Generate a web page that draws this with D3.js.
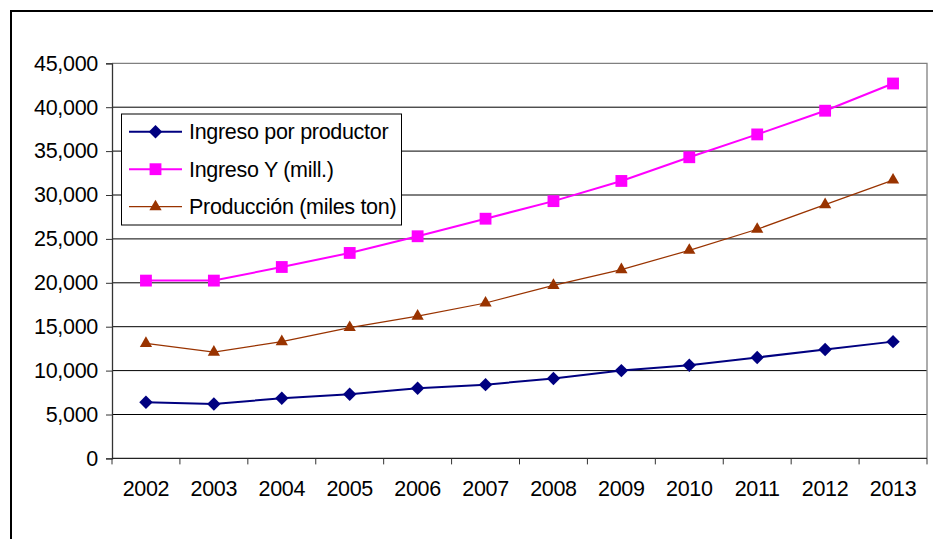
<!DOCTYPE html>
<html>
<head>
<meta charset="utf-8">
<script src="https://cdn.jsdelivr.net/npm/d3@7/dist/d3.min.js"></script>
<style>
  html, body { margin: 0; padding: 0; background: #fff; }
  svg { display: block; }
  text { font-family: "Liberation Sans", Arial, sans-serif; fill: #000; }
</style>
</head>
<body>
<svg id="chart" width="933" height="539"></svg>
<script>
const years = ["2002","2003","2004","2005","2006","2007","2008","2009","2010","2011","2012","2013"];
const ingresoProductor = [6400, 6200, 6850, 7300, 8000, 8400, 9100, 10000, 10600, 11500, 12400, 13300];
const ingresoY = [20250, 20250, 21800, 23400, 25300, 27300, 29300, 31600, 34300, 36900, 39600, 42700];
const produccion = [13100, 12100, 13300, 14900, 16200, 17700, 19700, 21500, 23700, 26100, 28900, 31700];
const yTicks = [0, 5000, 10000, 15000, 20000, 25000, 30000, 35000, 40000, 45000];
const seriesNames = ["Ingreso por productor", "Ingreso Y (mill.)", "Producción (miles ton)"];

(function () {
const svg = d3.select("#chart");

// outer chart frame (extends beyond the visible window on right/bottom)
svg.append("rect").attr("x", 11).attr("y", 11).attr("width", 1000).attr("height", 600)
  .attr("fill", "#fff").attr("stroke", "#000").attr("stroke-width", 2);

const pLeft = 112, pRight = 927, pTop = 63.3, pBottom = 458.4;
const x = d3.scaleBand().domain(years).range([pLeft, pRight]);
const cx = d => x(d) + x.bandwidth() / 2;
const y = d3.scaleLinear().domain([0, 45000]).range([pBottom, pTop]);

// gridlines
svg.append("g").selectAll("line").data(yTicks.filter(v => v > 0 && v < 45000)).join("line")
  .attr("x1", pLeft).attr("x2", pRight)
  .attr("y1", d => y(d)).attr("y2", d => y(d))
  .attr("stroke", "#000").attr("stroke-width", 1);

// plot area border (top & right)
svg.append("path")
  .attr("d", `M${pLeft},${y(45000)}H${pRight}V${pBottom}`)
  .attr("fill", "none").attr("stroke", "#808080").attr("stroke-width", 1.3);

// y axis
const yAxis = d3.axisLeft(y).tickValues(yTicks).tickFormat(d3.format(",")).tickSize(6).tickPadding(8);
const gy = svg.append("g").attr("transform", `translate(${pLeft},0)`).call(yAxis);
gy.select(".domain").attr("stroke", "#333").attr("stroke-width", 1.3);
gy.selectAll(".tick line").attr("stroke", "#333");
gy.selectAll(".tick text").attr("font-size", 21.5).attr("font-family", "Liberation Sans, Arial, sans-serif")
  .attr("fill", "#000").attr("letter-spacing", -0.3);

// x axis
svg.append("line").attr("x1", pLeft).attr("x2", pRight).attr("y1", pBottom).attr("y2", pBottom)
  .attr("stroke", "#222").attr("stroke-width", 1.3);
const bounds = years.map(d => x(d)).concat([x(years[years.length - 1]) + x.bandwidth()]);
svg.append("g").selectAll("line").data(bounds).join("line")
  .attr("x1", d => d).attr("x2", d => d).attr("y1", pBottom).attr("y2", pBottom + 6)
  .attr("stroke", "#333").attr("stroke-width", 1);
svg.append("g").selectAll("text").data(years).join("text")
  .attr("x", d => cx(d)).attr("y", 496).attr("text-anchor", "middle")
  .attr("font-size", 21.5).attr("letter-spacing", -0.3).text(d => d);

// series
const line = d3.line().x((d, i) => cx(years[i])).y(d => y(d));
const series = [
  { name: seriesNames[0], values: ingresoProductor, color: "#000080", width: 2, sym: d3.symbolDiamond2, size: 115 },
  { name: seriesNames[1], values: ingresoY, color: "#FF00FF", width: 2, sym: d3.symbolSquare, size: 140 },
  { name: seriesNames[2], values: produccion, color: "#993300", width: 1.2, sym: d3.symbolTriangle, size: 65 }
];

series.forEach(s => {
  svg.append("path").datum(s.values).attr("d", line)
    .attr("fill", "none").attr("stroke", s.color).attr("stroke-width", s.width);
  svg.append("g").selectAll("path").data(s.values).join("path")
    .attr("transform", (d, i) => `translate(${cx(years[i])},${y(d)})`)
    .attr("d", d3.symbol().type(s.sym).size(s.size))
    .attr("fill", s.color);
});

// legend
const lg = svg.append("g");
lg.append("rect").attr("x", 121.5).attr("y", 114).attr("width", 280).attr("height", 111)
  .attr("fill", "#fff").attr("stroke", "#000").attr("stroke-width", 1);
series.forEach((s, i) => {
  const ry = 131.7 + i * 37.5;
  lg.append("line").attr("x1", 129).attr("x2", 182).attr("y1", ry).attr("y2", ry)
    .attr("stroke", s.color).attr("stroke-width", s.width);
  lg.append("path").attr("transform", `translate(155.5,${ry})`)
    .attr("d", d3.symbol().type(s.sym).size(s.size)).attr("fill", s.color);
  lg.append("text").attr("x", 189).attr("y", ry + 7.5).attr("font-size", 21.5)
    .attr("letter-spacing", -0.3).text(s.name);
});
})();
</script>
</body>
</html>
